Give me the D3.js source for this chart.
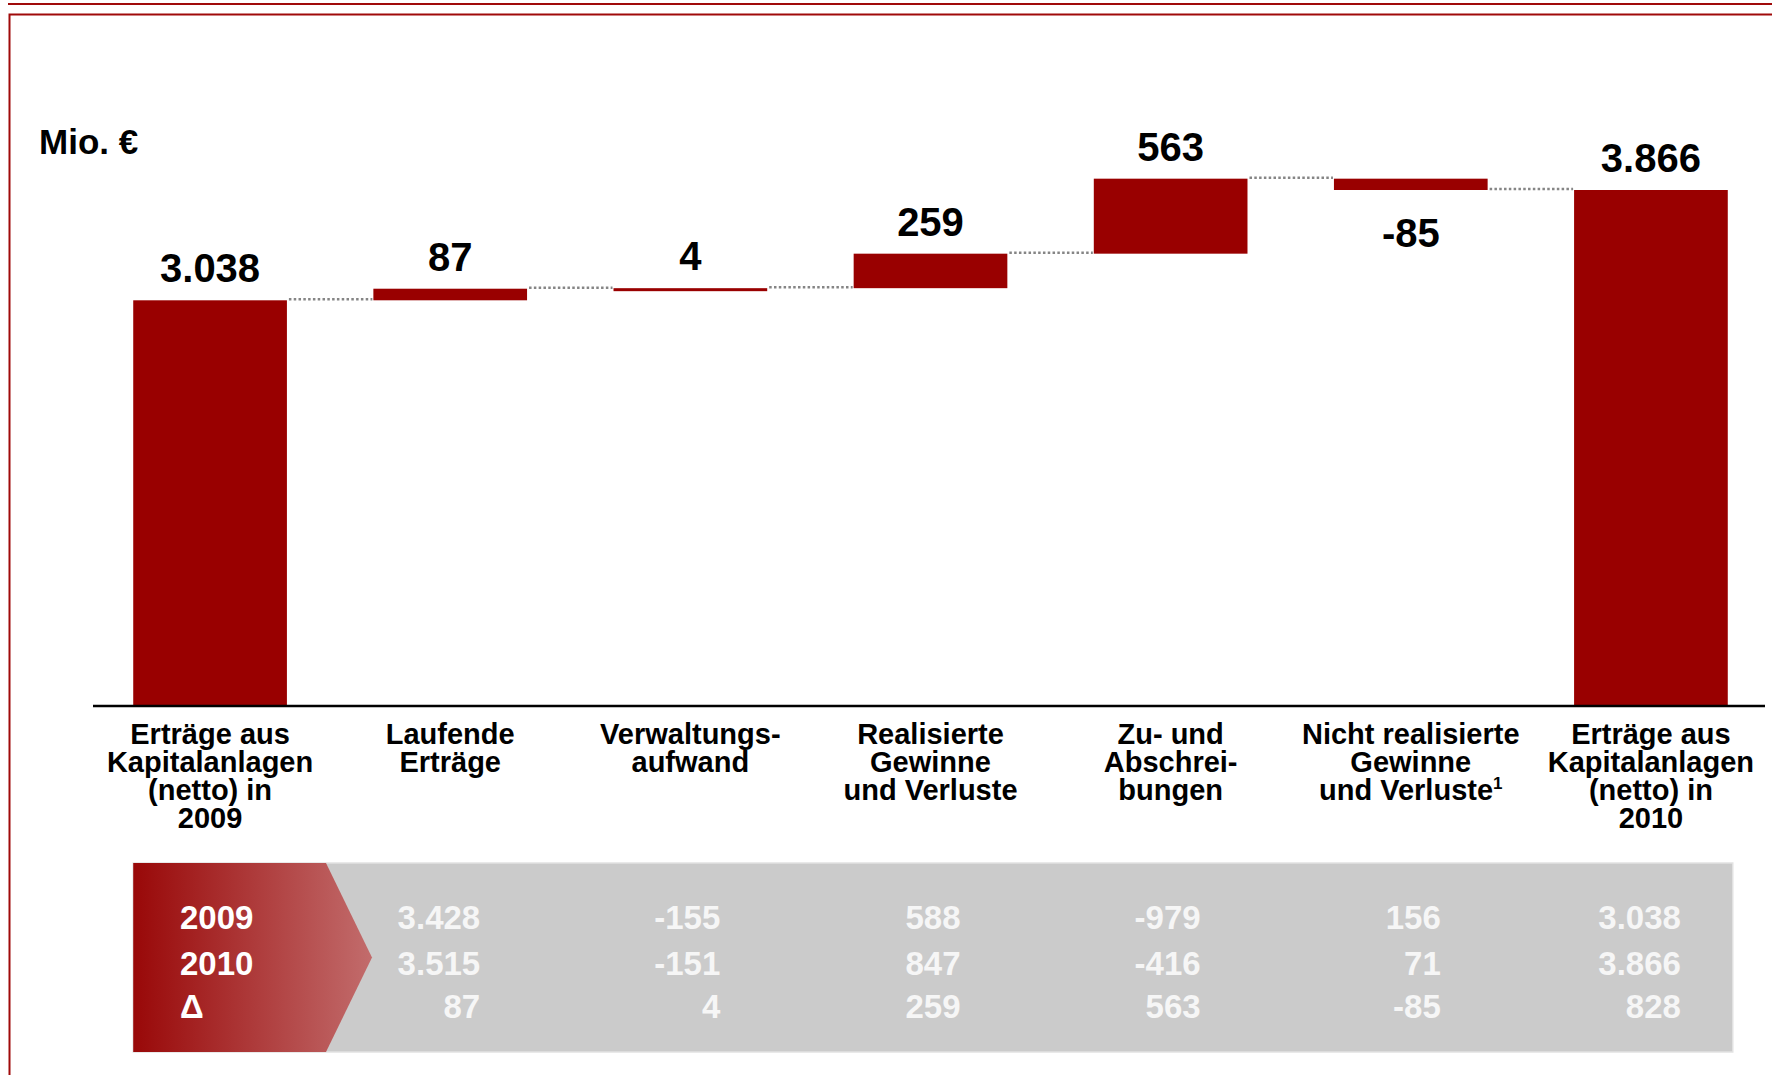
<!DOCTYPE html>
<html>
<head>
<meta charset="utf-8">
<script src="https://cdn.jsdelivr.net/npm/d3@7"></script>
<style>
  body { margin: 0; background: #fff; }
  svg { display: block; font-family: "Liberation Sans", Arial, Helvetica, sans-serif; }
</style>
</head>
<body>
<div id="chart"></div>
<script>
// categories (one array of lines per bar)
const categories = [
    ["Erträge aus", "Kapitalanlagen", "(netto) in", "2009"],
    ["Laufende", "Erträge"],
    ["Verwaltungs-", "aufwand"],
    ["Realisierte", "Gewinne", "und Verluste"],
    ["Zu- und", "Abschrei-", "bungen"],
    ["Nicht realisierte", "Gewinne", "und Verluste"],
    ["Erträge aus", "Kapitalanlagen", "(netto) in", "2010"]
];
const footnotes = ["", "", "", "", "", "1", ""];

// waterfall steps
const stepValues = [3038, 87, 4, 259, 563, -85, 3866];
const stepKinds = ["total", "delta", "delta", "delta", "delta", "delta", "total"];

// table below the chart
const rowLabels = ["2009", "2010", "Δ"];
const values2009 = [3428, -155, 588, -979, 156, 3038];
const values2010 = [3515, -151, 847, -416, 71, 3866];
const valuesDelta = [87, 4, 259, 563, -85, 828];

const width = 1772, height = 1075;
const red = "#990000";

const de = d3.formatLocale({ decimal: ",", thousands: ".", grouping: [3], currency: ["", " €"], minus: "-" });
const fmt = de.format(",d");

const svg = d3.select("#chart")
    .append("svg")
    .attr("width", width)
    .attr("height", height)
    .attr("viewBox", "0 0 " + width + " " + height);

// frame lines
svg.append("line").attr("x1", 8).attr("x2", width).attr("y1", 4).attr("y2", 4)
    .attr("stroke", "#a00a0a").attr("stroke-width", 2);
svg.append("path").attr("d", "M" + width + ",14.5H9.5V" + height)
    .attr("fill", "none").attr("stroke", "#a00a0a").attr("stroke-width", 2);

// running totals
let running = 0;
const steps = stepValues.map((v, i) => {
    let start, end;
    if (stepKinds[i] === "total") { start = 0; end = v; running = v; }
    else { start = running; end = running + v; running = end; }
    return { i: i, value: v, start: start, end: end, kind: stepKinds[i] };
});

const x = d3.scaleBand()
    .domain(d3.range(categories.length))
    .range([90, 1771])
    .paddingInner(0.36)
    .paddingOuter(0.18);

const y = d3.scaleLinear()
    .domain([0, 3866])
    .range([705, 190]);

const g = svg.append("g").attr("class", "waterfall");

// bars
g.selectAll(".bar")
    .data(steps)
    .enter().append("rect")
    .attr("class", "bar")
    .attr("x", d => x(d.i))
    .attr("width", x.bandwidth())
    .attr("y", d => y(Math.max(d.start, d.end)))
    .attr("height", d => Math.max(3, Math.abs(y(d.start) - y(d.end))))
    .attr("fill", red);

// dotted connectors
g.selectAll(".connector")
    .data(steps.slice(0, -1))
    .enter().append("line")
    .attr("class", "connector")
    .attr("x1", d => x(d.i) + x.bandwidth() + 2)
    .attr("x2", d => x(d.i + 1) - 1)
    .attr("y1", d => y(d.end) - 1)
    .attr("y2", d => y(d.end) - 1)
    .attr("stroke", "#858585")
    .attr("stroke-width", 2.5)
    .attr("stroke-dasharray", "2.5,2.3");

// value labels
g.selectAll(".value")
    .data(steps)
    .enter().append("text")
    .attr("class", "value")
    .attr("x", d => x(d.i) + x.bandwidth() / 2)
    .attr("y", d => d.value >= 0 ? y(Math.max(d.start, d.end)) - 18 : y(Math.min(d.start, d.end)) + 57)
    .attr("text-anchor", "middle")
    .attr("font-size", 40)
    .attr("font-weight", "bold")
    .attr("fill", "#000")
    .text(d => fmt(d.value));

// unit
svg.append("text")
    .attr("x", 39)
    .attr("y", 154)
    .attr("font-size", 35)
    .attr("font-weight", "bold")
    .text("Mio. €");

// baseline
svg.append("line")
    .attr("x1", 93).attr("x2", 1765)
    .attr("y1", y(0) + 1).attr("y2", y(0) + 1)
    .attr("stroke", "#000")
    .attr("stroke-width", 2.5);

// category labels
const cat = svg.selectAll(".cat")
    .data(categories)
    .enter().append("text")
    .attr("class", "cat")
    .attr("text-anchor", "middle")
    .attr("font-size", 29)
    .attr("font-weight", "bold")
    .attr("fill", "#000");

cat.each(function (lines, i) {
    const t = d3.select(this);
    const cx = x(i) + x.bandwidth() / 2;
    lines.forEach((line, k) => {
        t.append("tspan")
            .attr("x", cx)
            .attr("y", 744 + k * 28)
            .text(line);
        if (k === lines.length - 1 && footnotes[i]) {
            t.append("tspan")
                .attr("font-size", 17)
                .attr("dy", -11)
                .text(footnotes[i]);
        }
    });
});

// table
const tableTop = 863, tableBottom = 1052;
const tableLeft = x(0), tableRight = x(categories.length - 1) + x.bandwidth() + 5;
const rowY = [929, 975, 1018];

const defs = svg.append("defs");
const grad = defs.append("linearGradient")
    .attr("id", "arrowGrad")
    .attr("gradientUnits", "userSpaceOnUse")
    .attr("x1", tableLeft).attr("x2", 372)
    .attr("y1", 0).attr("y2", 0);
grad.append("stop").attr("offset", "0%").attr("stop-color", "#990808");
grad.append("stop").attr("offset", "100%").attr("stop-color", "#c26c6c");

svg.append("rect")
    .attr("x", tableLeft)
    .attr("y", tableTop)
    .attr("width", tableRight - tableLeft)
    .attr("height", tableBottom - tableTop)
    .attr("fill", "#cbcbcb")
    .attr("stroke", "#e2e2e2")
    .attr("stroke-width", 1.5);

const midY = (tableTop + tableBottom) / 2;
svg.append("path")
    .attr("d", d3.line()([
        [tableLeft, tableTop], [326, tableTop], [372, midY],
        [326, tableBottom], [tableLeft, tableBottom]
    ]) + "Z")
    .attr("fill", "url(#arrowGrad)");

svg.selectAll(".rowlabel")
    .data(rowLabels)
    .enter().append("text")
    .attr("class", "rowlabel")
    .attr("x", 180)
    .attr("y", (d, i) => rowY[i])
    .attr("font-size", 33)
    .attr("font-weight", "bold")
    .attr("fill", "#fff")
    .text(d => d);

const rows = [values2009, values2010, valuesDelta];
rows.forEach((vals, r) => {
    svg.selectAll(".cell" + r)
        .data(vals)
        .enter().append("text")
        .attr("class", "cell" + r)
        .attr("x", (d, i) => x(i + 1) + x.bandwidth() / 2 + 30)
        .attr("y", rowY[r])
        .attr("text-anchor", "end")
        .attr("font-size", 33)
        .attr("font-weight", "bold")
        .attr("fill", "#f6f6f6")
        .text(d => fmt(d));
});
</script>
</body>
</html>
